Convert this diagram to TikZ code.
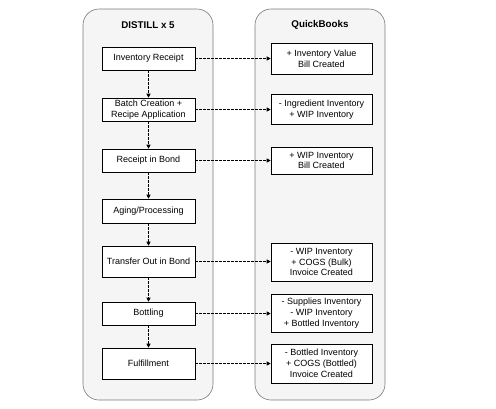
\documentclass[tikz,border=0pt]{standalone}
\usepackage{fontspec}
\setmainfont{Liberation Sans}
\usetikzlibrary{arrows.meta}
\definecolor{panelfill}{HTML}{F5F5F5}
\definecolor{panelline}{HTML}{7A7A7A}
\tikzset{
  panel/.style={draw=panelline, fill=panelfill, rounded corners=16pt, line width=0.6pt},
  panelTitle/.style={font=\fontsize{9.8}{12}\selectfont\bfseries},
  stepbox/.style={draw=black, fill=white, line width=0.6pt, minimum width=93pt, inner sep=0pt, align=center, font=\fontsize{9}{10.8}\selectfont},
  qbbox/.style={draw=black, fill=white, line width=0.6pt, minimum width=101pt, inner sep=0pt, align=center, font=\fontsize{9}{10.8}\selectfont},
  flow/.style={dashed, dash pattern=on 2.5pt off 1.5pt, line width=0.6pt, -{Triangle[length=4pt,width=4pt]}},
}
\begin{document}
\begin{tikzpicture}[x=1pt,y=-1pt]
\useasboundingbox (0,0) rectangle (496,408);
\draw[panel] (83,9) rectangle (213,400);
\draw[panel] (255,9) rectangle (385,400);
\node[panelTitle] (t1) at (148,25) {DISTILL x 5};
\node[panelTitle] (t2) at (320,25) {QuickBooks};

\node[stepbox, minimum height=23pt] (s1) at (148.5,58.5) {Inventory Receipt};
\node[stepbox, minimum height=23pt] (s2) at (148.5,109.5) {Batch Creation +\\Recipe Application};
\node[stepbox, minimum height=23pt] (s3) at (148.5,160.5) {Receipt in Bond};
\node[stepbox, minimum height=24pt] (s4) at (148.5,211) {Aging/Processing};
\node[stepbox, minimum height=31pt] (s5) at (148.5,261.5) {Transfer Out in Bond};
\node[stepbox, minimum height=23pt] (s6) at (148.5,313.5) {Bottling};
\node[stepbox, minimum height=31pt] (s7) at (148.5,363.5) {Fulfillment};

\node[qbbox, minimum height=31pt] (q1) at (321.5,58.5) {+ Inventory Value\\Bill Created};
\node[qbbox, minimum height=30pt] (q2) at (321.5,109.5) {- Ingredient Inventory\\+ WIP Inventory};
\node[qbbox, minimum height=27pt] (q3) at (321.5,160.5) {+ WIP Inventory\\Bill Created};
\node[qbbox, minimum height=38pt] (q5) at (321.5,262) {- WIP Inventory\\+ COGS (Bulk)\\Invoice Created};
\node[qbbox, minimum height=38pt] (q6) at (321.5,313) {- Supplies Inventory\\- WIP Inventory\\+ Bottled Inventory};
\node[qbbox, minimum height=39pt] (q7) at (321.5,363.5) {- Bottled Inventory\\+ COGS (Bottled)\\Invoice Created};

\draw[flow] (s1) -- (s2);
\draw[flow] (s2) -- (s3);
\draw[flow] (s3) -- (s4);
\draw[flow] (s4) -- (s5);
\draw[flow] (s5) -- (s6);
\draw[flow] (s6) -- (s7);

\draw[flow] (s1.east) -- (s1.east -| q1.west);
\draw[flow] (s2.east) -- (s2.east -| q2.west);
\draw[flow] (s3.east) -- (s3.east -| q3.west);
\draw[flow] (s5.east) -- (s5.east -| q5.west);
\draw[flow] (s6.east) -- (s6.east -| q6.west);
\draw[flow] (s7.east) -- (s7.east -| q7.west);
\end{tikzpicture}
\end{document}
